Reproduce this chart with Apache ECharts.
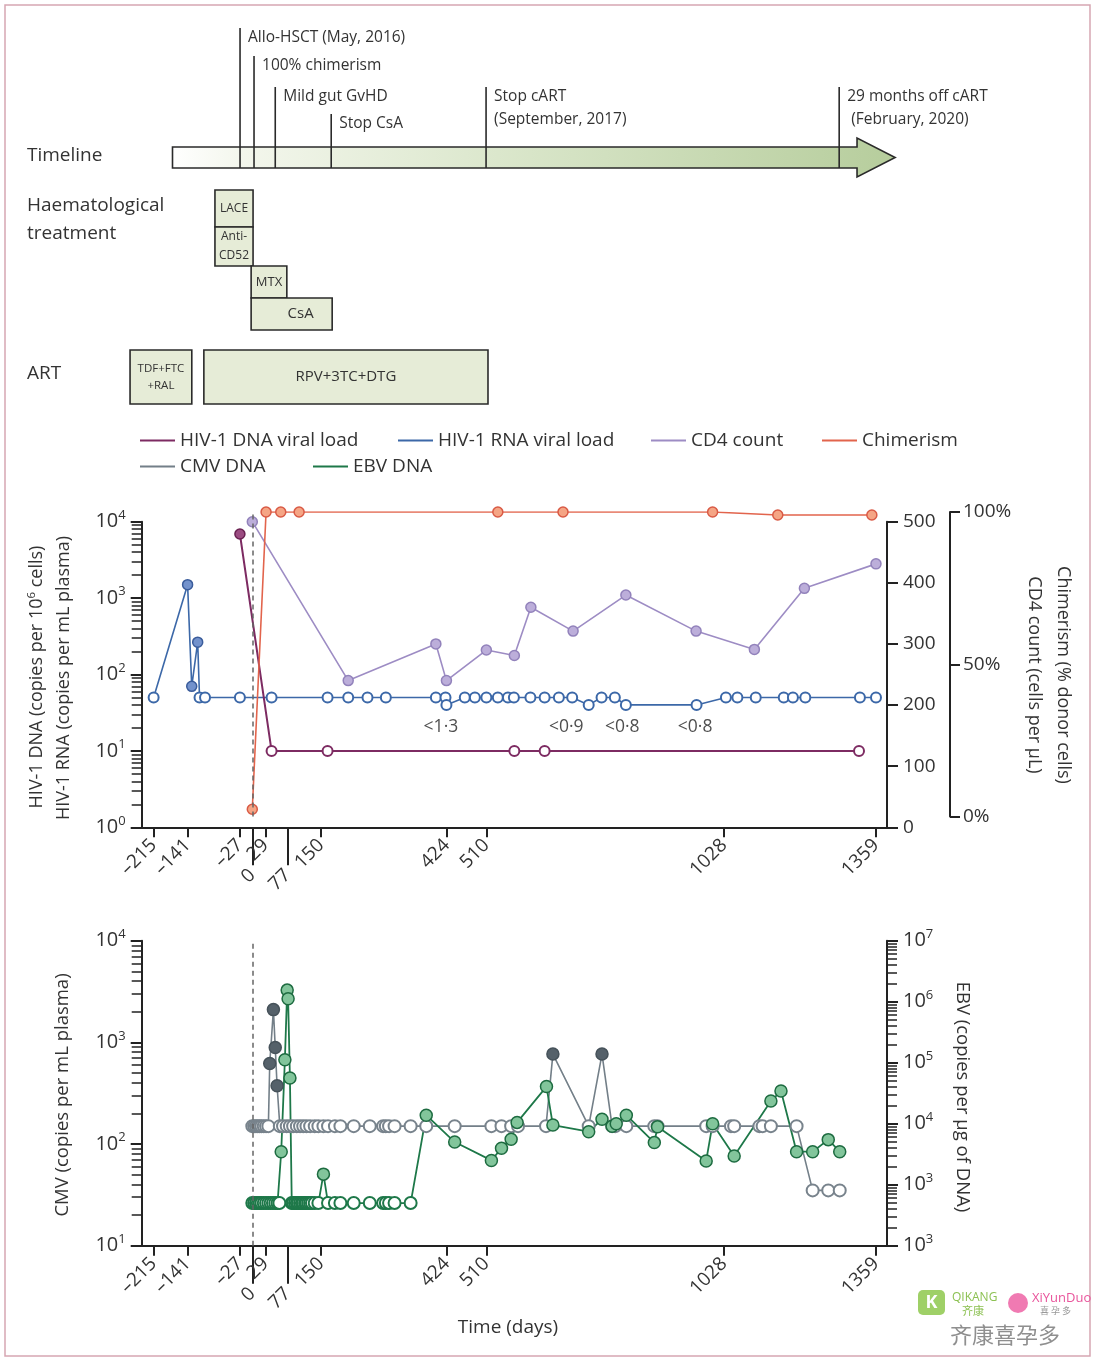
<!DOCTYPE html>
<html><head><meta charset="utf-8"><title>HIV timeline</title>
<script src="https://cdn.jsdelivr.net/npm/echarts@6/dist/echarts.min.js"></script>
<style>html,body{margin:0;padding:0;background:#fff;}#chart{width:1100px;height:1370px;}</style>
</head><body><div id="chart"></div>
<script>
// ================= DATA =================
// shared time axis (days)
const xTickValues = [-215, -141, -27, 29, 150, 424, 510, 1028, 1359];
const xLongTickValues = [0, 77];

// timeline (days on the schematic timeline)
const eventNames = ['Allo-HSCT (May, 2016)', '100% chimerism', 'Mild gut GvHD', 'Stop CsA', 'Stop cART\n(September, 2017)', '29 months off cART\n (February, 2020)'];
const eventDays = [0, 29, 73, 189, 510, 1242];
const arrowSpan = [-140, 1279, 1358];

const treatNames = ['LACE', 'Anti-\nCD52', 'MTX', 'CsA', 'TDF+FTC\n+RAL', 'RPV+3TC+DTG'];
const treatStart = [-52, -52, 23, 23, -228, -75];
const treatEnd = [27, 27, 97, 191, -100, 514];
const treatLane = ['haem1', 'haem2', 'haem3', 'haem4', 'art', 'art'];

// middle panel
const dnaDays = [-27, 42, 164, 571, 637, 1322];
const dnaValues = [6900, 10, 10, 10, 10, 10];
const dnaDetected = [1, 0, 0, 0, 0, 0];

const rnaDays = [-215, -141, -132, -119, -115, -103, -27, 42, 164, 209, 251, 291, 400, 421, 423, 463, 485, 510, 535, 557, 570, 606, 637, 668, 697, 733, 761, 790, 814, 968, 1032, 1057, 1097, 1158, 1178, 1205, 1324, 1359];
const rnaValues = [50, 1500, 70, 265, 50, 50, 50, 50, 50, 50, 50, 50, 50, 50, 40, 50, 50, 50, 50, 50, 50, 50, 50, 50, 50, 40, 50, 50, 40, 40, 50, 50, 50, 50, 50, 50, 50, 50];
const rnaDetected = [0, 1, 1, 1, 0, 0, 0, 0, 0, 0, 0, 0, 0, 0, 0, 0, 0, 0, 0, 0, 0, 0, 0, 0, 0, 0, 0, 0, 0, 0, 0, 0, 0, 0, 0, 0, 0, 0];

const cd4Days = [0, 209, 400, 423, 510, 571, 607, 699, 814, 967, 1094, 1203, 1359];
const cd4Values = [500, 240, 300, 240, 290, 281, 360, 321, 380, 321, 291, 391, 431];

const chimDays = [0, 30, 62, 102, 535, 677, 1003, 1145, 1350];
const chimValues = [2.4, 100, 100, 100, 100, 100, 100, 99, 99];

const lodDays = [411, 684, 806, 965];
const lodText = ['<1·3', '<0·9', '<0·8', '<0·8'];

const dnaAxisExponents = [0, 1, 2, 3, 4];
const cd4AxisValues = [0, 100, 200, 300, 400, 500];
const chimAxisValues = [0, 50, 100];

// bottom panel
const cmvDays = [0, 4, 8, 12, 16, 20, 25, 30, 35,
  38, 46, 50, 54,
  60, 67, 75, 82, 89, 97, 104, 111, 118, 126, 136, 144, 155, 165, 180, 192, 221, 256, 285, 291, 298, 310, 345, 379, 441, 521, 543, 564, 579, 640,
  655, 733, 762,
  784, 791, 815, 876, 883, 989, 1003, 1043, 1050, 1105, 1112, 1130, 1186,
  1221, 1255, 1280];
const cmvValues = [150, 150, 150, 150, 150, 150, 150, 150, 150,
  620, 2100, 890, 374,
  150, 150, 150, 150, 150, 150, 150, 150, 150, 150, 150, 150, 150, 150, 150, 150, 150, 150, 150, 150, 150, 150, 150, 150, 150, 150, 150, 150, 150, 150,
  767, 150, 767,
  150, 150, 150, 150, 150, 150, 150, 150, 150, 150, 150, 150, 150,
  35, 35, 35];
const cmvDetected = [0, 0, 0, 0, 0, 0, 0, 0, 0,
  1, 1, 1, 1,
  0, 0, 0, 0, 0, 0, 0, 0, 0, 0, 0, 0, 0, 0, 0, 0, 0, 0, 0, 0, 0, 0, 0, 0, 0, 0, 0, 0, 0, 0,
  1, 0, 1,
  0, 0, 0, 0, 0, 0, 0, 0, 0, 0, 0, 0, 0,
  0, 0, 0];

const ebvDays = [0, 4, 8, 12, 16, 20, 25, 30, 35, 40, 45, 50, 55, 59,
  63, 71, 76, 78, 82,
  86, 89, 93, 97, 100, 104, 108, 111, 115, 118, 122, 126, 130, 136, 144,
  155,
  165, 180, 192, 221, 256, 285, 291, 298, 310, 345,
  379, 441, 521, 543, 564, 577, 641, 655, 733, 762, 784, 793, 815, 876, 883, 989, 1003, 1050, 1130, 1152, 1186, 1221, 1255, 1280];
const ebvValues = [500, 500, 500, 500, 500, 500, 500, 500, 500, 500, 500, 500, 500, 500,
  3470, 112000, 1550000, 1120000, 56000,
  500, 500, 500, 500, 500, 500, 500, 500, 500, 500, 500, 500, 500, 500, 500,
  1490,
  500, 500, 500, 500, 500, 500, 500, 500, 500, 500,
  13800, 5000, 2500, 3960, 5560, 10500, 40600, 9500, 7400, 11800, 9100, 10000, 13800, 4900, 8900, 2450, 10000, 2960, 23500, 34300, 3480, 3480, 5480, 3480];
const ebvDetected = [0, 0, 0, 0, 0, 0, 0, 0, 0, 0, 0, 0, 0, 0,
  1, 1, 1, 1, 1,
  0, 0, 0, 0, 0, 0, 0, 0, 0, 0, 0, 0, 0, 0, 0,
  1,
  0, 0, 0, 0, 0, 0, 0, 0, 0, 0,
  1, 1, 1, 1, 1, 1, 1, 1, 1, 1, 1, 1, 1, 1, 1, 1, 1, 1, 1, 1, 1, 1, 1, 1];

const cmvAxisExponents = [1, 2, 3, 4];
const ebvAxisExponents = [3, 3, 4, 5, 6, 7];   // labels as printed (lowest decade printed as 10^3)

// ================= LAYOUT / STYLE =================
const FONT = "'Open Sans', 'Noto Sans', sans-serif";
const TXT = '#333333';
const INK = '#222222';
const X_MIN = -241, X_MAX = 1383;
const GRID_L = 141.7, GRID_R = 213;
const TL = { bodyTop: 147, bodyBottom: 168, headTop: 138, headBottom: 177 };
const EVENT_TEXT_Y = [38, 66, 97, 124, 97, 97];
const LANE_Y = { haem1: [190, 227], haem2: [227, 266], haem3: [266, 298], haem4: [298, 330], art: [350, 404] };
const TREAT_FONT = [12, 12, 13, 15, 11.5, 15];
const TREAT_LH = [14, 19, 14, 16, 17, 18];
const TREAT_DX = [0, 0, 0, 9, 0, 0];
const LOD_LABEL_LEVEL = 20.5;

const C = {
  dna: { line: '#7d2b62', fill: '#9b4c82', border: '#6a2152', open: '#7d2b62' },
  rna: { line: '#3c68a8', fill: '#7392cc', border: '#3a5c9b', open: '#3c68a8' },
  cd4: { line: '#9d8cc4', fill: '#bcaeda', border: '#9282bb', open: '#9d8cc4' },
  chim: { line: '#e2644c', fill: '#f5a585', border: '#d95a45', open: '#e2644c' },
  cmv: { line: '#737f88', fill: '#55616a', border: '#46525a', open: '#78838c' },
  ebv: { line: '#1e7849', fill: '#82c59b', border: '#1d6b40', open: '#1e7849' }
};

function mkPoints(days, vals, detected, st) {
  return days.map((d, i) => ({
    value: [d, vals[i]],
    itemStyle: (!detected || detected[i])
      ? { color: st.fill, borderColor: st.border, borderWidth: 1.5 }
      : { color: '#ffffff', borderColor: st.open, borderWidth: 2 }
  }));
}
function minorTicks(minExp, maxExp) {
  const out = [];
  for (let e = minExp; e < maxExp; e++) for (let m = 2; m <= 9; m++) out.push(m * Math.pow(10, e));
  return out;
}
const supRich = {
  b: { fontSize: 20, fontFamily: FONT, color: TXT, lineHeight: 26 },
  s: { fontSize: 13, fontFamily: FONT, color: TXT, verticalAlign: 'top', lineHeight: 13 }
};
function logAxis(grid, pos, min, max, exps, minExp, margin) {
  return {
    gridIndex: grid, type: 'log', logBase: 10, position: pos, min: min, max: max,
    axisLine: { show: true, onZero: false, lineStyle: { color: INK, width: 2 } },
    axisTick: { show: true, length: 11, lineStyle: { color: INK, width: 2 } },
    minorTick: { show: false }, splitLine: { show: false },
    axisLabel: {
      show: true, margin: margin,
      formatter: v => { const e = Math.round(Math.log10(v)); return '{b|10}{s|' + exps[e - minExp] + '}'; },
      rich: supRich
    }
  };
}
function minorAxis(grid, pos, min, max, minExp, maxExp) {
  return {
    gridIndex: grid, type: 'log', logBase: 10, position: pos, min: min, max: max,
    axisLine: { show: false, onZero: false },
    axisTick: { show: true, length: 10, customValues: minorTicks(minExp, maxExp), lineStyle: { color: INK, width: 1.5 } },
    axisLabel: { show: false }, splitLine: { show: false }
  };
}
const fmtDay = v => (v < 0 ? '–' + (-v) : String(v));
function mainX(grid) {
  return {
    gridIndex: grid, type: 'value', position: 'bottom', min: X_MIN, max: X_MAX,
    axisLine: { show: true, onZero: false, lineStyle: { color: INK, width: 2 } },
    axisTick: { show: true, length: 10, customValues: xTickValues, lineStyle: { color: INK, width: 2 } },
    axisLabel: { show: true, customValues: xTickValues, rotate: 45, margin: 15, fontSize: 19, fontFamily: FONT, color: TXT, formatter: fmtDay },
    splitLine: { show: false }
  };
}
function longX(grid) {
  return {
    gridIndex: grid, type: 'value', position: 'bottom', min: X_MIN, max: X_MAX,
    axisLine: { show: false, onZero: false },
    axisTick: { show: true, length: 38, customValues: xLongTickValues, lineStyle: { color: INK, width: 2 } },
    axisLabel: { show: true, customValues: xLongTickValues, rotate: 45, margin: 45, fontSize: 19, fontFamily: FONT, color: TXT, formatter: fmtDay },
    splitLine: { show: false }
  };
}
const lineBase = (name, st, xi, yi, size) => ({
  name: name, type: 'line', xAxisIndex: xi, yAxisIndex: yi, symbol: 'circle', symbolSize: size,
  showAllSymbol: true, animation: false,
  lineStyle: { color: st.line, width: 1.6 }, itemStyle: { color: st.line }
});
const dashed0 = {
  silent: true, symbol: ['none', 'none'], label: { show: false },
  lineStyle: { type: [5, 4], color: '#666', width: 1.5 }, data: [{ xAxis: 0 }]
};

// ================= CHART =================
const chart = echarts.init(document.getElementById('chart'), null, { renderer: 'canvas' });

const legendBase = (name, left, top) => ({
  data: [name], left: left, top: top, padding: 0, icon: 'rect', itemWidth: 35, itemHeight: 2,
  selectedMode: false, itemStyle: { borderWidth: 0 },
  textStyle: { fontSize: 19, fontFamily: FONT, color: TXT }
});

const option = {
  animation: false,
  backgroundColor: '#ffffff',
  textStyle: { fontFamily: FONT },
  legend: [
    legendBase('HIV-1 DNA viral load', 140, 431),
    legendBase('HIV-1 RNA viral load', 398, 431),
    legendBase('CD4 count', 651, 431),
    legendBase('Chimerism', 822, 431),
    legendBase('CMV DNA', 140, 457),
    legendBase('EBV DNA', 313, 457)
  ],
  grid: [
    { left: GRID_L, right: GRID_R, top: 521.7, bottom: 1370 - 827.3, outerBoundsMode: 'none', containLabel: false },
    { left: GRID_L, right: GRID_R, top: 512, bottom: 1370 - 816.6, outerBoundsMode: 'none', containLabel: false },
    { left: GRID_L, right: GRID_R, top: 940.7, bottom: 1370 - 1245.7, outerBoundsMode: 'none', containLabel: false },
    { left: 172.5, right: 165.3, top: 130, height: 40, outerBoundsMode: 'none', containLabel: false }
  ],
  xAxis: [
    mainX(0),
    longX(0),
    { gridIndex: 1, type: 'value', min: X_MIN, max: X_MAX, show: false },
    mainX(2),
    longX(2),
    { gridIndex: 3, type: 'value', min: -140, max: 1440, show: false }
  ],
  yAxis: [
    logAxis(0, 'left', 1, 10000, dnaAxisExponents, 0, 16),
    minorAxis(0, 'left', 1, 10000, 0, 4),
    {
      gridIndex: 0, type: 'value', position: 'right', min: 0, max: 500, interval: 100,
      axisLine: { show: true, onZero: false, lineStyle: { color: INK, width: 2 } },
      axisTick: { show: true, length: 11, customValues: cd4AxisValues, lineStyle: { color: INK, width: 2 } },
      axisLabel: { show: true, customValues: cd4AxisValues, margin: 16, fontSize: 19, fontFamily: FONT, color: TXT },
      splitLine: { show: false }
    },
    {
      gridIndex: 1, type: 'value', position: 'right', offset: 63, min: 0, max: 100, interval: 50,
      axisLine: { show: true, onZero: false, lineStyle: { color: INK, width: 2 } },
      axisTick: { show: true, length: 10, customValues: chimAxisValues, lineStyle: { color: INK, width: 2 } },
      axisLabel: { show: true, customValues: chimAxisValues, margin: 13, fontSize: 19, fontFamily: FONT, color: TXT, formatter: v => v + '%' },
      splitLine: { show: false }
    },
    logAxis(2, 'left', 10, 10000, cmvAxisExponents, 1, 16),
    minorAxis(2, 'left', 10, 10000, 1, 4),
    logAxis(2, 'right', 100, 10000000, ebvAxisExponents, 2, 16),
    minorAxis(2, 'right', 100, 10000000, 2, 7),
    { gridIndex: 3, type: 'value', min: 0, max: 1, show: false }
  ],
  series: [
    // ---- timeline arrow ----
    {
      type: 'custom', xAxisIndex: 5, yAxisIndex: 8, clip: false, silent: true, animation: false,
      data: [arrowSpan],
      renderItem: (params, api) => {
        const x0 = api.coord([api.value(0), 0])[0];
        const xb = api.coord([api.value(1), 0])[0];
        const xt = api.coord([api.value(2), 0])[0];
        const mid = (TL.bodyTop + TL.bodyBottom) / 2;
        return {
          type: 'polygon',
          shape: { points: [[x0, TL.bodyTop], [xb, TL.bodyTop], [xb, TL.headTop], [xt, mid], [xb, TL.headBottom], [xb, TL.bodyBottom], [x0, TL.bodyBottom]] },
          style: {
            fill: new echarts.graphic.LinearGradient(0, 0, 1, 0, [
              { offset: 0, color: '#ffffff' }, { offset: 0.1, color: '#f3f6ec' }, { offset: 0.45, color: '#dbe7cc' }, { offset: 1, color: '#b6cd9c' }
            ]),
            stroke: '#2a2a2a', lineWidth: 1.6
          }
        };
      }
    },
    // ---- timeline events ----
    {
      type: 'custom', xAxisIndex: 5, yAxisIndex: 8, clip: false, silent: true, animation: false,
      data: eventDays.map((d, i) => ({ value: [d, 0], name: eventNames[i] })),
      renderItem: (params, api) => {
        const i = params.dataIndex;
        const x = api.coord([api.value(0), 0])[0];
        const ty = EVENT_TEXT_Y[i];
        return {
          type: 'group', children: [
            { type: 'line', shape: { x1: x, y1: ty - 10, x2: x, y2: TL.bodyBottom }, style: { stroke: '#2a2a2a', lineWidth: 1.6 } },
            { type: 'text', x: x + 8, y: ty - 11.5, style: { text: eventNames[i], fontSize: 15.5, fontFamily: FONT, fill: TXT, lineHeight: 23, align: 'left', verticalAlign: 'top' } }
          ]
        };
      }
    },
    // ---- treatment boxes ----
    {
      type: 'custom', xAxisIndex: 5, yAxisIndex: 8, clip: false, silent: true, animation: false,
      data: treatStart.map((s, i) => ({ value: [s, treatEnd[i]], name: treatNames[i] })),
      renderItem: (params, api) => {
        const i = params.dataIndex;
        const x0 = api.coord([api.value(0), 0])[0];
        const x1 = api.coord([api.value(1), 0])[0];
        const ly = LANE_Y[treatLane[i]];
        return {
          type: 'group', children: [
            { type: 'rect', shape: { x: x0, y: ly[0], width: x1 - x0, height: ly[1] - ly[0] }, style: { fill: '#e6ecd7', stroke: '#2a2a2a', lineWidth: 1.6 } },
            { type: 'text', x: (x0 + x1) / 2 + TREAT_DX[i], y: (ly[0] + ly[1]) / 2, style: { text: treatNames[i], fontSize: TREAT_FONT[i], lineHeight: TREAT_LH[i], fontFamily: FONT, fill: TXT, align: 'center', verticalAlign: 'middle' } }
          ]
        };
      }
    },
    // ---- middle panel ----
    Object.assign(lineBase('CD4 count', C.cd4, 0, 2, 10), { data: mkPoints(cd4Days, cd4Values, null, C.cd4) }),
    Object.assign(lineBase('HIV-1 RNA viral load', C.rna, 0, 0, 10), { data: mkPoints(rnaDays, rnaValues, rnaDetected, C.rna) }),
    Object.assign(lineBase('HIV-1 DNA viral load', C.dna, 0, 0, 10), { data: mkPoints(dnaDays, dnaValues, dnaDetected, C.dna), lineStyle: { color: C.dna.line, width: 2 } }),
    Object.assign(lineBase('Chimerism', C.chim, 2, 3, 10), { data: mkPoints(chimDays, chimValues, null, C.chim), markLine: dashed0 }),
    {
      type: 'scatter', xAxisIndex: 0, yAxisIndex: 0, symbolSize: 1, silent: true, animation: false,
      itemStyle: { color: 'rgba(0,0,0,0)' },
      label: { show: true, position: 'inside', formatter: '{b}', fontSize: 17.5, fontFamily: FONT, color: '#222222' },
      data: lodDays.map((d, i) => ({ value: [d, LOD_LABEL_LEVEL], name: lodText[i] }))
    },
    // ---- bottom panel ----
    Object.assign(lineBase('CMV DNA', C.cmv, 3, 4, 12), { data: mkPoints(cmvDays, cmvValues, cmvDetected, C.cmv), markLine: dashed0 }),
    Object.assign(lineBase('EBV DNA', C.ebv, 3, 6, 12), { data: mkPoints(ebvDays, ebvValues, ebvDetected, C.ebv), lineStyle: { color: C.ebv.line, width: 1.8 } })
  ],
  graphic: [
    { type: 'rect', silent: true, z: -10, shape: { x: 5, y: 5, width: 1085, height: 1351 }, style: { fill: 'none', stroke: '#d6a6b2', lineWidth: 1.5 } },
    { type: 'text', x: 27, y: 156, style: { text: 'Timeline', fontSize: 19, fontFamily: FONT, fill: TXT, align: 'left', verticalAlign: 'middle' } },
    { type: 'text', x: 27, y: 192, style: { text: 'Haematological\ntreatment', fontSize: 19, lineHeight: 28, fontFamily: FONT, fill: TXT, align: 'left', verticalAlign: 'top' } },
    { type: 'text', x: 27, y: 374, style: { text: 'ART', fontSize: 19, fontFamily: FONT, fill: TXT, align: 'left', verticalAlign: 'middle' } },
    // axis titles
    { type: 'text', x: 37, y: 677, rotation: Math.PI / 2, style: { text: '{n|HIV-1 DNA (copies per 10}{s|6}{n| cells)}', rich: { n: { fontSize: 18, fontFamily: FONT, fill: TXT, lineHeight: 22 }, s: { fontSize: 11.5, fontFamily: FONT, fill: TXT, verticalAlign: 'top', lineHeight: 11 } }, align: 'center', verticalAlign: 'middle' } },
    { type: 'text', x: 64, y: 678, rotation: Math.PI / 2, style: { text: 'HIV-1 RNA (copies per mL plasma)', fontSize: 18, fontFamily: FONT, fill: TXT, align: 'center', verticalAlign: 'middle' } },
    { type: 'text', x: 1063, y: 675, rotation: -Math.PI / 2, style: { text: 'Chimerism (% donor cells)', fontSize: 18, fontFamily: FONT, fill: TXT, align: 'center', verticalAlign: 'middle' } },
    { type: 'text', x: 1034, y: 675, rotation: -Math.PI / 2, style: { text: 'CD4 count (cells per μL)', fontSize: 18, fontFamily: FONT, fill: TXT, align: 'center', verticalAlign: 'middle' } },
    { type: 'text', x: 63, y: 1095, rotation: Math.PI / 2, style: { text: 'CMV (copies per mL plasma)', fontSize: 18.5, fontFamily: FONT, fill: TXT, align: 'center', verticalAlign: 'middle' } },
    { type: 'text', x: 962, y: 1097, rotation: -Math.PI / 2, style: { text: 'EBV (copies per μg of DNA)', fontSize: 18.5, fontFamily: FONT, fill: TXT, align: 'center', verticalAlign: 'middle' } },
    { type: 'text', x: 508, y: 1328, style: { text: 'Time (days)', fontSize: 19, fontFamily: FONT, fill: TXT, align: 'center', verticalAlign: 'middle' } },
    // watermark
    { type: 'rect', x: 918, y: 1290, shape: { x: 0, y: 0, width: 27, height: 25, r: 5 }, style: { fill: '#9fd067' } },
    { type: 'text', x: 931.5, y: 1302.5, style: { text: 'K', fontSize: 18, fontWeight: 'bold', fontFamily: FONT, fill: '#ffffff', align: 'center', verticalAlign: 'middle' } },
    { type: 'text', x: 952, y: 1298, style: { text: 'QIKANG', fontSize: 12, fontFamily: FONT, fill: '#8cc152', align: 'left', verticalAlign: 'middle' } },
    { type: 'text', x: 962, y: 1311, style: { text: '齐康', fontSize: 11, fontFamily: "'Noto Sans CJK SC', sans-serif", fill: '#8cc152', align: 'left', verticalAlign: 'middle' } },
    { type: 'circle', shape: { cx: 1018, cy: 1303, r: 10 }, style: { fill: '#f07ab2' } },
    { type: 'text', x: 1032, y: 1298, style: { text: 'XiYunDuo', fontSize: 13, fontFamily: FONT, fill: '#e9559c', align: 'left', verticalAlign: 'middle' } },
    { type: 'text', x: 1040, y: 1311, style: { text: '喜 孕 多', fontSize: 9, fontFamily: "'Noto Sans CJK SC', sans-serif", fill: '#999999', align: 'left', verticalAlign: 'middle' } },
    { type: 'text', x: 1005, y: 1335, style: { text: '齐康喜孕多', fontSize: 22, fontFamily: "'Noto Sans CJK SC', sans-serif", fill: '#8f8f8f', align: 'center', verticalAlign: 'middle' } }
  ]
};
chart.setOption(option);
</script>
</body></html>
